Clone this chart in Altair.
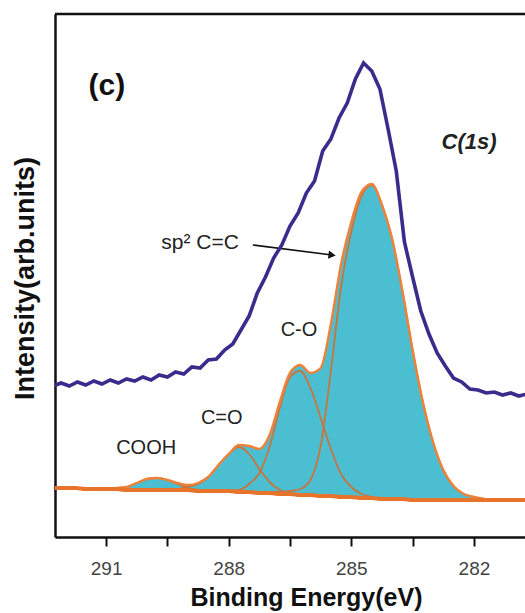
import altair as alt
import pandas as pd

# ---------------- data ----------------
# fit grid (binding energy, eV)
E_FIT = [292.25, 292.0, 291.75, 291.5, 291.25, 291.0, 290.75, 290.5, 290.25, 290.0,
         289.75, 289.5, 289.25, 289.0, 288.75, 288.5, 288.25, 288.0, 287.75, 287.5,
         287.25, 287.0, 286.75, 286.5, 286.25, 286.0, 285.75, 285.5, 285.25, 285.0,
         284.75, 284.5, 284.25, 284.0, 283.75, 283.5, 283.25, 283.0, 282.75, 282.5,
         282.25, 282.0, 281.75, 281.5, 281.25, 281.0, 280.75]
BACKGROUND = [49, 49, 49, 48, 48, 48, 48, 47, 47, 47,
              47, 47, 47, 47, 46, 46, 46, 46, 45, 45,
              44, 44, 43, 43, 42, 42, 41, 41, 40, 40,
              39, 39, 38, 38, 38, 37, 37, 37, 37, 37,
              37, 37, 37, 37, 37, 37, 37]
COOH = [0, 0, 0, 0, 0, 0, 1, 3, 7, 11,
        12, 10, 6, 2, 1, 0, 0, 0, 0, 0,
        0, 0, 0, 0, 0, 0, 0, 0, 0, 0,
        0, 0, 0, 0, 0, 0, 0, 0, 0, 0,
        0, 0, 0, 0, 0, 0, 0]
C_DOUBLE_O = [0, 0, 0, 0, 0, 0, 0, 0, 0, 0,
              0, 0, 1, 3, 7, 14, 26, 37, 45, 38,
              24, 11, 4, 1, 0, 0, 0, 0, 0, 0,
              0, 0, 0, 0, 0, 0, 0, 0, 0, 0,
              0, 0, 0, 0, 0, 0, 0]
C_O = [0, 0, 0, 0, 0, 0, 0, 0, 0, 0,
       0, 0, 0, 0, 0, 0, 0, 0, 2, 8,
       20, 46, 86, 117, 124, 107, 78, 47, 23, 10,
       4, 1, 0, 0, 0, 0, 0, 0, 0, 0,
       0, 0, 0, 0, 0, 0, 0]
SP2 = [0, 0, 0, 0, 0, 0, 0, 0, 0, 0,
       0, 0, 0, 0, 0, 0, 0, 0, 0, 0,
       0, 1, 2, 3, 6, 15, 50, 125, 210, 265,
       302, 313, 294, 260, 208, 150, 98, 58, 30, 14,
       6, 3, 1, 0, 0, 0, 0]

# measured spectrum
E_RAW = [292.3, 292.1, 291.9, 291.7, 291.5, 291.3, 291.1, 290.9, 290.7, 290.5,
         290.3, 290.1, 289.9, 289.7, 289.5, 289.3, 289.1, 288.9, 288.7, 288.5,
         288.3, 288.1, 287.9, 287.7, 287.5, 287.3, 287.1, 286.9, 286.7, 286.5,
         286.3, 286.1, 285.9, 285.7, 285.5, 285.3, 285.1, 284.9, 284.7, 284.5,
         284.3, 284.1, 283.9, 283.7, 283.5, 283.3, 283.1, 282.9, 282.7, 282.5,
         282.3, 282.1, 281.9, 281.7, 281.5, 281.3, 281.1, 280.9, 280.7]
I_RAW = [151, 154, 151, 155, 152, 156, 153, 157, 154, 158,
         156, 160, 157, 162, 160, 165, 163, 170, 169, 177,
         178, 187, 193, 207, 221, 244, 260, 279, 292, 311,
         324, 344, 356, 386, 398, 419, 434, 458, 474, 466,
         448, 408, 366, 295, 260, 226, 203, 184, 171, 159,
         155, 148, 147, 144, 145, 142, 144, 141, 143]

TICK_VALUES = [291, 289.5, 288, 286.5, 285, 283.5, 282]

# annotations
LABEL_TEXT = ["sp\u00b2 C=C", "C-O", "C=O", "COOH"]
LABEL_E = [289.65, 286.28, 288.17, 290.02]
LABEL_I = [294, 207, 119, 89]
PANEL_TEXT = ["(c)"]
PANEL_E = [290.98]
PANEL_I = [451]
CORE_TEXT = ["C(1s)"]
CORE_E = [282.12]
CORE_I = [395]
ARROW_E = [287.41, 285.47]
ARROW_I = [292, 282]

# ---------------- tables ----------------
components = {"COOH": COOH, "C=O": C_DOUBLE_O, "C-O": C_O, "sp2": SP2}
rows = []
for name, vals in components.items():
    nz = [i for i, v in enumerate(vals) if v > 0]
    lo, hi = max(nz[0] - 1, 0), min(nz[-1] + 1, len(vals) - 1)
    for i in range(lo, hi + 1):
        rows.append({"comp": name, "E": E_FIT[i], "I": BACKGROUND[i] + vals[i],
                     "base": BACKGROUND[i]})
comp_df = pd.DataFrame(rows)

env_df = pd.DataFrame({
    "E": E_FIT,
    "I": [BACKGROUND[i] + COOH[i] + C_DOUBLE_O[i] + C_O[i] + SP2[i] for i in range(len(E_FIT))],
    "base": BACKGROUND,
})
bg_df = pd.DataFrame({"E": E_FIT, "I": BACKGROUND})
raw_df = pd.DataFrame({"E": E_RAW, "I": I_RAW})
lab_df = pd.DataFrame({"E": LABEL_E, "I": LABEL_I, "t": LABEL_TEXT})
panel_df = pd.DataFrame({"E": PANEL_E, "I": PANEL_I, "t": PANEL_TEXT})
core_df = pd.DataFrame({"E": CORE_E, "I": CORE_I, "t": CORE_TEXT})
arrow_df = pd.DataFrame({"E": ARROW_E, "I": ARROW_I})

# ---------------- encodings ----------------
FONT = "Liberation Sans"
W, H = 470, 523

x_axis = alt.Axis(
    values=TICK_VALUES, format=".0f",
    labelExpr="datum.value % 3 == 0 ? datum.label : ''",
    title="Binding Energy(eV)", titleFont=FONT, titleFontSize=25, titleFontWeight="bold",
    titleColor="#111", titleX=251, titleY=68, titleBaseline="alphabetic", titleAlign="center",
    labelFont=FONT, labelFontSize=19, labelColor="#444", labelPadding=13,
    tickSize=9, tickWidth=2, tickColor="#111",
    domainColor="#111", domainWidth=2.5, grid=False,
)
y_axis = alt.Axis(
    labels=False, ticks=False, grid=False,
    domainColor="#111", domainWidth=2.5,
    title="Intensity(arb.units)", titleFont=FONT, titleFontSize=27, titleFontWeight="bold",
    titleColor="#111", titleAngle=270, titleX=-22, titleY=264,
    titleBaseline="alphabetic", titleAlign="center",
)
x_scale = alt.Scale(domain=[280.75, 292.25], reverse=True, nice=False, zero=False)
y_scale = alt.Scale(domain=[0, 523], nice=False, zero=False)


def X():
    return alt.X("E:Q", scale=x_scale, axis=x_axis)


def Y(field="I"):
    return alt.Y(f"{field}:Q", scale=y_scale, axis=y_axis)


CYAN = "#4bbfd1"
ORANGE = "#e8732a"

env_fill = alt.Chart(env_df).mark_area(
    color=CYAN, opacity=1, interpolate="monotone", clip=True
).encode(x=X(), y=Y(), y2="base:Q")

outlines = alt.Chart(comp_df).mark_line(
    color="#c8743e", strokeWidth=1.8, interpolate="monotone", clip=True
).encode(x=X(), y=Y(), detail="comp:N")

envelope = alt.Chart(env_df).mark_line(
    color="#ee823a", strokeWidth=2.4, interpolate="monotone", clip=True
).encode(x=X(), y=Y())

background = alt.Chart(bg_df).mark_line(
    color=ORANGE, strokeWidth=4, interpolate="monotone", clip=True
).encode(x=X(), y=Y())

arrow_line = alt.Chart(arrow_df).mark_line(
    color="#111", strokeWidth=1.6
).encode(x=X(), y=Y())

arrow_head = alt.Chart(arrow_df.tail(1)).mark_point(
    shape="triangle-right", angle=7, size=70, filled=True, color="#111", opacity=1
).encode(x=X(), y=Y())

raw = alt.Chart(raw_df).mark_line(
    color="#3a2b8c", strokeWidth=3.6, clip=True
).encode(x=X(), y=Y())

labels_center = alt.Chart(lab_df[lab_df["t"] != LABEL_TEXT[0]]).mark_text(
    font=FONT, fontSize=20, color="#222", align="center", baseline="middle"
).encode(x=X(), y=Y(), text="t:N")

labels_left = alt.Chart(lab_df[lab_df["t"] == LABEL_TEXT[0]]).mark_text(
    font=FONT, fontSize=21, color="#222", align="left", baseline="middle"
).encode(x=X(), y=Y(), text="t:N")

panel = alt.Chart(panel_df).mark_text(
    font=FONT, fontSize=30, fontWeight="bold", color="#111", align="center", baseline="middle"
).encode(x=X(), y=Y(), text="t:N")

core = alt.Chart(core_df).mark_text(
    font=FONT, fontSize=22, fontWeight="bold", fontStyle="italic", color="#222",
    align="center", baseline="middle"
).encode(x=X(), y=Y(), text="t:N")

top_border = alt.Chart(bg_df.head(1)).mark_rule(color="#111", strokeWidth=2.5).encode(
    x=alt.value(0), x2=alt.value(W), y=alt.value(0)
)

chart = alt.layer(
    env_fill, outlines, envelope, background, arrow_line, arrow_head, raw,
    labels_center, labels_left, panel, core, top_border
).properties(
    width=W, height=H,
    autosize=alt.AutoSizeParams(type="none"),
    padding={"left": 55, "top": 14, "right": 0, "bottom": 76},
    background="white",
).configure_view(stroke=None)

chart.save("out.html", embed_options={"renderer": "svg", "actions": False})
